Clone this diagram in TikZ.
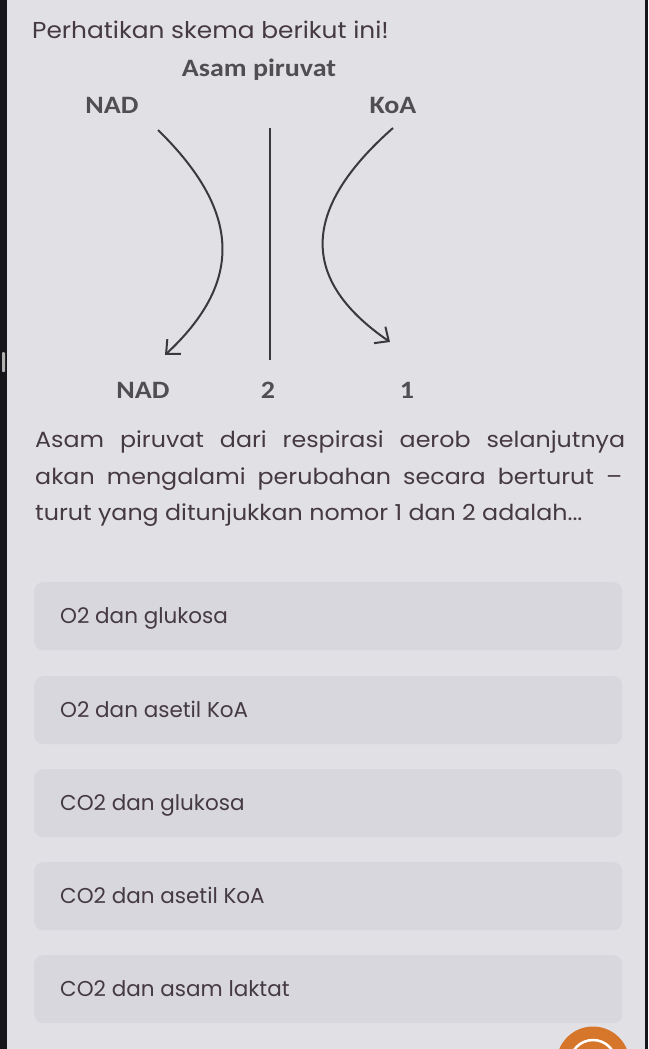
\documentclass[tikz,border=0pt]{standalone}
\usepackage{fontspec}
\setmainfont{Poppins}
\newfontfamily\widefont[FakeStretch=1.08]{Poppins}
\newfontfamily\diagfont[FakeStretch=1.12]{Carlito}
\usetikzlibrary{arrows.meta}

\definecolor{pagebg}{RGB}{225,224,229}
\definecolor{boxbg}{RGB}{215,215,221}
\definecolor{frame}{RGB}{22,22,26}
\definecolor{quiz}{RGB}{70,58,66}
\definecolor{labelgray}{RGB}{80,78,82}
\definecolor{linegray}{RGB}{58,58,62}
\definecolor{fab}{RGB}{214,118,42}

\tikzset{
  optbox/.style={fill=boxbg,rounded corners=9pt,minimum width=588pt,minimum height=68pt,anchor=north west,inner sep=0pt},
  quiztext/.style={anchor=base west,text=quiz,inner sep=0pt,font=\fontsize{21.5}{25}\selectfont},
  lbl/.style={anchor=base,text=labelgray,inner sep=0pt,font=\diagfont\bfseries\fontsize{25}{29}\selectfont},
  flow/.style={draw=linegray,line width=2pt,-{Straight Barb[length=11pt,width=20pt,line width=2pt]}}
}

\begin{document}
\begin{tikzpicture}[x=1pt,y=-1pt]
\useasboundingbox (0,0) rectangle (648,1049);
\clip (0,0) rectangle (648,1049);
\fill[pagebg] (0,0) rectangle (648,1049);
\fill[frame] (0,0) rectangle (7,1049);
\fill[frame] (645,0) rectangle (648,1049);
\fill[gray!60,rounded corners=1pt] (2,352) rectangle (5,372);

\node[quiztext,font=\widefont\fontsize{23}{27}\selectfont] (0) at (32,39) {Perhatikan skema berikut ini!};

\node[lbl] (1) at (259,76) {Asam piruvat};
\node[lbl] (2) at (112,113) {NAD};
\node[lbl] (3) at (393,113) {KoA};
\node[lbl] (4) at (143,398) {NAD};
\node[lbl] (5) at (268,398) {2};
\node[lbl] (6) at (407,398) {1};

\coordinate (7) at (158,130);
\coordinate (8) at (165,355);
\coordinate (9) at (270,128);
\coordinate (10) at (270,360);
\coordinate (11) at (393,128);
\coordinate (12) at (390,342);

\path [flow] (7) .. controls (245,215) and (240,285) .. (8);
\path [draw=linegray,line width=2pt] (9) -- (10);
\path [flow] (11) .. controls (300,210) and (300,280) .. (12);

\node[quiztext,font=\widefont\fontsize{22}{26}\selectfont] (13) at (35,447) {\makebox[590pt][s]{Asam piruvat dari respirasi aerob selanjutnya}};
\node[quiztext,font=\widefont\fontsize{22}{26}\selectfont] (14) at (35,484) {\makebox[587pt][s]{akan mengalami perubahan secara berturut –}};
\node[quiztext,font=\widefont\fontsize{22}{26}\selectfont] (15) at (35,520) {turut yang ditunjukkan nomor 1 dan 2 adalah...};

\node[optbox] (16) at (34,582) {};
\node[optbox] (17) at (34,676) {};
\node[optbox] (18) at (34,769) {};
\node[optbox] (19) at (34,862) {};
\node[optbox] (20) at (34,955) {};

\node[quiztext] (21) at (60,623) {O2 dan glukosa};
\node[quiztext] (22) at (60,717) {O2 dan asetil KoA};
\node[quiztext] (23) at (60,810) {CO2 dan glukosa};
\node[quiztext] (24) at (60,903) {CO2 dan asetil KoA};
\node[quiztext] (25) at (60,996) {CO2 dan asam laktat};

\fill[fab] (593,1063) circle (36.5pt);
\draw[white,line width=2.5pt] (593,1063) circle (23pt);
\end{tikzpicture}
\end{document}
